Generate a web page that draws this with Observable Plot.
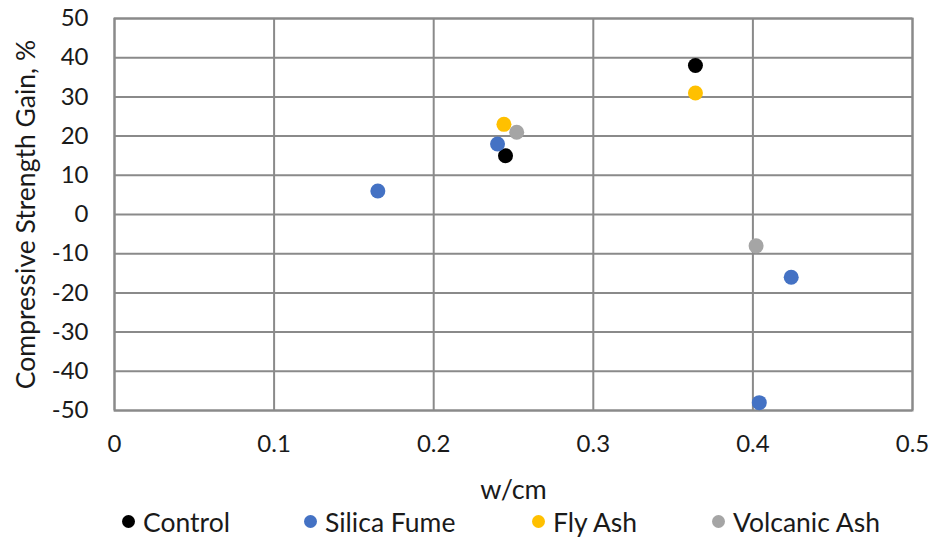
<!DOCTYPE html>
<html>
<head>
<meta charset="utf-8">
<script src="https://cdn.jsdelivr.net/npm/d3@7"></script>
<script src="https://cdn.jsdelivr.net/npm/@observablehq/plot@0.6"></script>
<style>
  body { margin: 0; background: #fff; font-family: Lato, "Open Sans", sans-serif; }
  #legend { position: relative; height: 33px; font-size: 26.5px; color: #1a1a1a; }
  .item { position: absolute; top: 0; display: flex; align-items: center; height: 33px; }
  .dot { width: 13px; height: 13px; border-radius: 50%; margin-right: 8px; }
</style>
</head>
<body>
<div id="chart"></div>
<div id="legend"></div>
<script>
const series = ["Control", "Silica Fume", "Fly Ash", "Volcanic Ash"];
const colors = ["#000000", "#4472C4", "#FFC000", "#A5A5A5"];
const legendX = [122, 304, 532, 712];

const controlX = [0.245, 0.364];
const controlY = [15, 38];
const silicaX = [0.165, 0.240, 0.424, 0.404];
const silicaY = [6, 18, -16, -48];
const flyX = [0.244, 0.364];
const flyY = [23, 31];
const volcanicX = [0.252, 0.402];
const volcanicY = [21, -8];

const xTicks = [0, 0.1, 0.2, 0.3, 0.4, 0.5];
const yTicks = [-50, -40, -30, -20, -10, 0, 10, 20, 30, 40, 50];

const groups = [
  [series[0], controlX, controlY],
  [series[1], silicaX, silicaY],
  [series[2], flyX, flyY],
  [series[3], volcanicX, volcanicY]
];
const data = groups.flatMap(([s, xs, ys]) => xs.map((x, i) => ({series: s, x, y: ys[i]})));

const grid = "#8a8a8a";
const txt = "#1a1a1a";
const plot = Plot.plot({
  width: 933,
  height: 505,
  marginTop: 18,
  marginBottom: 95,
  marginLeft: 114,
  marginRight: 21,
  style: {fontFamily: "Lato, 'Open Sans', sans-serif", fontSize: "24px", color: txt, background: "#fff"},
  x: {domain: [0, 0.5], ticks: xTicks},
  y: {domain: [-50, 50], ticks: yTicks},
  color: {domain: series, range: colors},
  marks: [
    Plot.gridX(xTicks, {stroke: grid, strokeOpacity: 1, strokeWidth: 2}),
    Plot.gridY(yTicks, {stroke: grid, strokeOpacity: 1, strokeWidth: 2}),
    Plot.frame({stroke: grid, strokeWidth: 2}),
    Plot.axisX(xTicks, {tickSize: 0, tickPadding: 24, label: null, fontSize: 24, tickFormat: d => String(d)}),
    Plot.axisY(yTicks, {tickSize: 0, tickPadding: 26, label: null, fontSize: 24, tickFormat: d => String(d)}),
    Plot.text(["Compressive Strength Gain, %"], {frameAnchor: "left", textAnchor: "middle", rotate: -90, dx: -88, fontSize: 26.5, fill: txt}),
    Plot.text(["w/cm"], {frameAnchor: "bottom", dy: 88, fontSize: 27, fill: txt}),
    Plot.dot(data, {x: "x", y: "y", fill: "series", r: 7.5})
  ]
});
document.getElementById("chart").appendChild(plot);

const legend = document.getElementById("legend");
series.forEach((s, i) => {
  const item = document.createElement("div");
  item.className = "item";
  item.style.left = legendX[i] + "px";
  const dot = document.createElement("span");
  dot.className = "dot";
  dot.style.background = colors[i];
  const label = document.createElement("span");
  label.textContent = s;
  item.appendChild(dot);
  item.appendChild(label);
  legend.appendChild(item);
});
</script>
</body>
</html>
